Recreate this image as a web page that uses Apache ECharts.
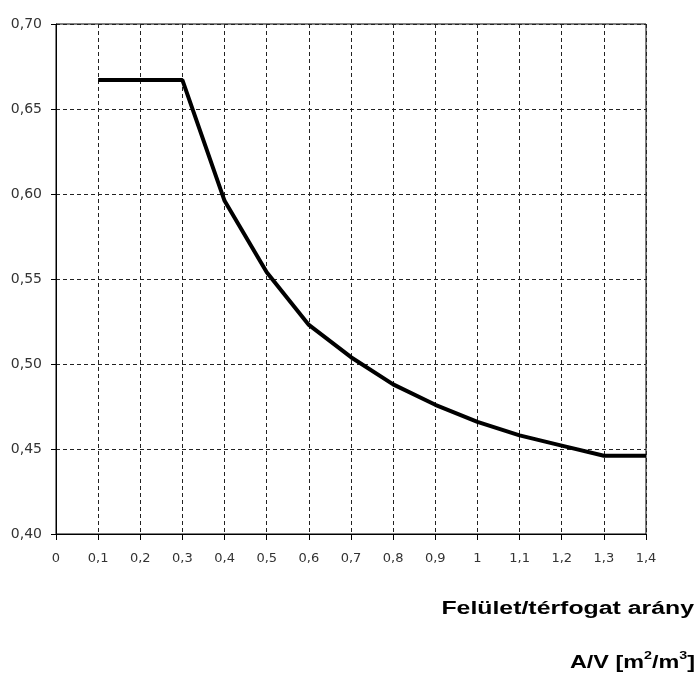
<!DOCTYPE html>
<html><head><meta charset="utf-8">
<script src="https://cdn.jsdelivr.net/npm/echarts@6/dist/echarts.min.js"></script>
<style>html,body{margin:0;padding:0;background:#fff}#c{width:696px;height:684px}</style>
</head><body><div id="c"></div>
<script>
const xValues = [0.1, 0.2, 0.3, 0.4, 0.5, 0.6, 0.7, 0.8, 0.9, 1.0, 1.1, 1.2, 1.3, 1.4];
const yValues = [0.667, 0.667, 0.667, 0.596, 0.554, 0.523, 0.504, 0.488, 0.476, 0.466, 0.458, 0.452, 0.446, 0.446];
const xTitle = 'Felület/térfogat arány';

const chart = echarts.init(document.getElementById('c'));
const fmt = v => String(Math.round(v * 100) / 100).replace('.', ',');
chart.setOption({
  animation: false,
  grid: { left: 56, right: 50, top: 24, bottom: 150, show: true, borderColor: '#000', borderWidth: 1 },
  xAxis: {
    type: 'value', min: 0, max: 1.4, interval: 0.1,
    axisLine: { show: true, onZero: false, lineStyle: { color: '#000', width: 1 } },
    axisTick: { show: true, length: 6, lineStyle: { color: '#000' } },
    axisLabel: { formatter: v => fmt(v), color: '#333', fontFamily: 'DejaVu Sans', fontSize: 13, margin: 18 },
    splitLine: { show: true, lineStyle: { color: '#222', type: [4, 3], width: 1 } }
  },
  yAxis: {
    type: 'value', min: 0.4, max: 0.7, interval: 0.05,
    axisLine: { show: true, onZero: false, lineStyle: { color: '#000', width: 1 } },
    axisTick: { show: true, length: 5, lineStyle: { color: '#000' } },
    axisLabel: { formatter: v => (Math.round(v * 100) / 100).toFixed(2).replace('.', ','), color: '#333', fontFamily: 'DejaVu Sans', fontSize: 14, margin: 14 },
    splitLine: { show: true, lineStyle: { color: '#222', type: [4, 3], width: 1 } }
  },
  series: [{
    type: 'line',
    data: xValues.map((x, i) => [x, yValues[i]]),
    showSymbol: false,
    lineStyle: { color: '#000', width: 4 }
  }],
  graphic: [
    { type: 'text', x: 694, y: 609, scaleX: 1.38, style: { text: xTitle, font: 'bold 18px "Liberation Sans"', fill: '#000', align: 'right', verticalAlign: 'middle' } },
    { type: 'text', x: 695, y: 661, scaleX: 1.3, style: {
      text: '{a|A/V [m}{s|2}{a|/m}{s|3}{a|]}',
      align: 'right', verticalAlign: 'middle',
      rich: {
        a: { font: 'bold 18px "Liberation Sans"', fill: '#000', verticalAlign: 'bottom', lineHeight: 22 },
        s: { font: 'bold 11px "Liberation Sans"', fill: '#000', verticalAlign: 'top', lineHeight: 22, padding: [0, 0, 8, 0] }
      }
    } }
  ]
});
</script></body></html>
